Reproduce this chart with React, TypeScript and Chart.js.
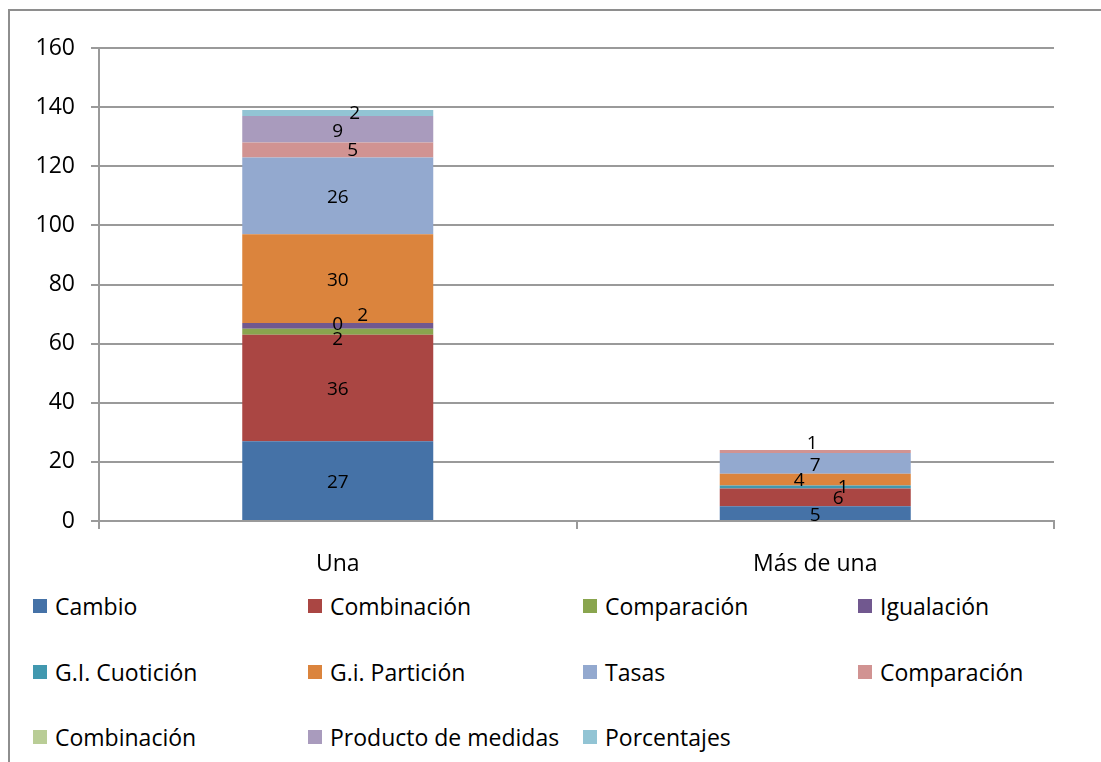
import React, { useEffect, useRef } from "react";
import { Chart, registerables } from "chart.js";

Chart.register(...registerables);

const categories = ["Una", "Más de una"];
const seriesNames = [
  "Cambio",
  "Combinación",
  "Comparación",
  "Igualación",
  "G.I. Cuotición",
  "G.i. Partición",
  "Tasas",
  "Comparación",
  "Combinación",
  "Producto de medidas",
  "Porcentajes",
];
const seriesColors = [
  "#4572A7",
  "#AA4643",
  "#89A54E",
  "#71588F",
  "#4198AF",
  "#DB843D",
  "#93A9CF",
  "#D19392",
  "#B9CD96",
  "#A99BBD",
  "#92C4D4",
];
const unaValues: (number | null)[] = [27, 36, 2, 2, 0, 30, 26, 5, null, 9, 2];
const masDeUnaValues: (number | null)[] = [5, 6, null, null, 1, 4, 7, 1, null, null, null];
const yTicks = [0, 20, 40, 60, 80, 100, 120, 140, 160];

// label nudges (pixels) keyed by "categoryIndex-datasetIndex" to avoid overlaps
const labelNudges: Record<string, [number, number]> = {
  "0-2": [0, 6],
  "0-3": [25, -12],
  "0-4": [0, 0],
  "0-7": [15, -1],
  "0-10": [17, -1],
  "1-1": [23, -1],
  "1-4": [28, -1],
  "1-5": [-16, -1],
  "1-7": [-3, -10],
};

const FONT = "'Open Sans', Lato, sans-serif";

const barLabelPlugin = {
  id: "barLabels",
  afterDatasetsDraw(chart: any) {
    const ctx = chart.ctx;
    ctx.save();
    ctx.font = `19px ${FONT}`;
    ctx.fillStyle = "#000";
    ctx.textAlign = "center";
    ctx.textBaseline = "middle";
    chart.data.datasets.forEach((ds: any, di: number) => {
      const meta = chart.getDatasetMeta(di);
      meta.data.forEach((el: any, ci: number) => {
        const v = ds.data[ci];
        if (v === null || v === undefined) return;
        const props = el.getProps(["x", "y", "base"], true);
        const cy = (props.y + props.base) / 2 + 2;
        const n = labelNudges[`${ci}-${di}`] || [0, 0];
        ctx.fillText(String(v), props.x + n[0], cy + n[1]);
      });
    });
    ctx.restore();
  },
};

export default function App() {
  const canvasRef = useRef<HTMLCanvasElement | null>(null);

  useEffect(() => {
    if (!canvasRef.current) return;
    const chart = new Chart(canvasRef.current, {
      type: "bar",
      data: {
        labels: categories,
        datasets: seriesNames.map((name, i) => ({
          label: name,
          data: [unaValues[i], masDeUnaValues[i]],
          backgroundColor: seriesColors[i],
          borderWidth: 0,
          categoryPercentage: 1,
          barPercentage: 0.4,
        })),
      },
      options: {
        responsive: false,
        animation: false,
        devicePixelRatio: 1,
        layout: { padding: { left: 0, right: 47, top: 48, bottom: 0 } },
        plugins: {
          legend: { display: false },
          tooltip: { enabled: false },
        },
        scales: {
          x: {
            stacked: true,
            afterFit: (s: any) => {
              s.height = 69;
            },
            grid: {
              drawOnChartArea: false,
              drawTicks: true,
              tickLength: 8,
              color: "#9a9a9a",
              lineWidth: 2,
            },
            border: { color: "#9a9a9a", width: 2 },
            ticks: {
              padding: 22,
              color: "#000",
              font: { family: FONT, size: 23 },
            },
          },
          y: {
            stacked: true,
            min: 0,
            max: 160,
            afterFit: (s: any) => {
              s.width = 99;
            },
            afterBuildTicks: (s: any) => {
              s.ticks = yTicks.map((v) => ({ value: v }));
            },
            grid: {
              color: "#9a9a9a",
              lineWidth: 2,
              tickLength: 8,
            },
            border: { color: "#9a9a9a", width: 2 },
            ticks: {
              padding: 16,
              color: "#000",
              font: { family: FONT, size: 23 },
            },
          },
        },
      },
      plugins: [barLabelPlugin],
    });
    return () => chart.destroy();
  }, []);

  return (
    <div
      style={{
        position: "fixed",
        left: 0,
        top: 0,
        width: 1101,
        height: 762,
        background: "#fff",
        overflow: "hidden",
      }}
    >
      <div
        style={{
          position: "absolute",
          left: 8,
          top: 9,
          width: 1200,
          height: 900,
          borderTop: "2px solid #8e8e8e",
          borderLeft: "2px solid #8e8e8e",
        }}
      />
      <canvas
        ref={canvasRef}
        width={1101}
        height={590}
        style={{ position: "absolute", left: 0, top: 0, width: 1101, height: 590 }}
      />
      {seriesNames.map((name, i) => {
        const row = Math.floor(i / 4);
        const col = i % 4;
        return (
          <div
            key={i}
            style={{
              position: "absolute",
              left: 33 + col * 275,
              top: 606 + row * 65.5 - 16,
              height: 32,
              display: "flex",
              alignItems: "center",
              fontFamily: FONT,
              fontSize: 23,
              color: "#000",
              whiteSpace: "nowrap",
            }}
          >
            <span
              style={{
                display: "inline-block",
                width: 14,
                height: 14,
                background: seriesColors[i],
                marginRight: 8,
              }}
            />
            {name}
          </div>
        );
      })}
    </div>
  );
}
